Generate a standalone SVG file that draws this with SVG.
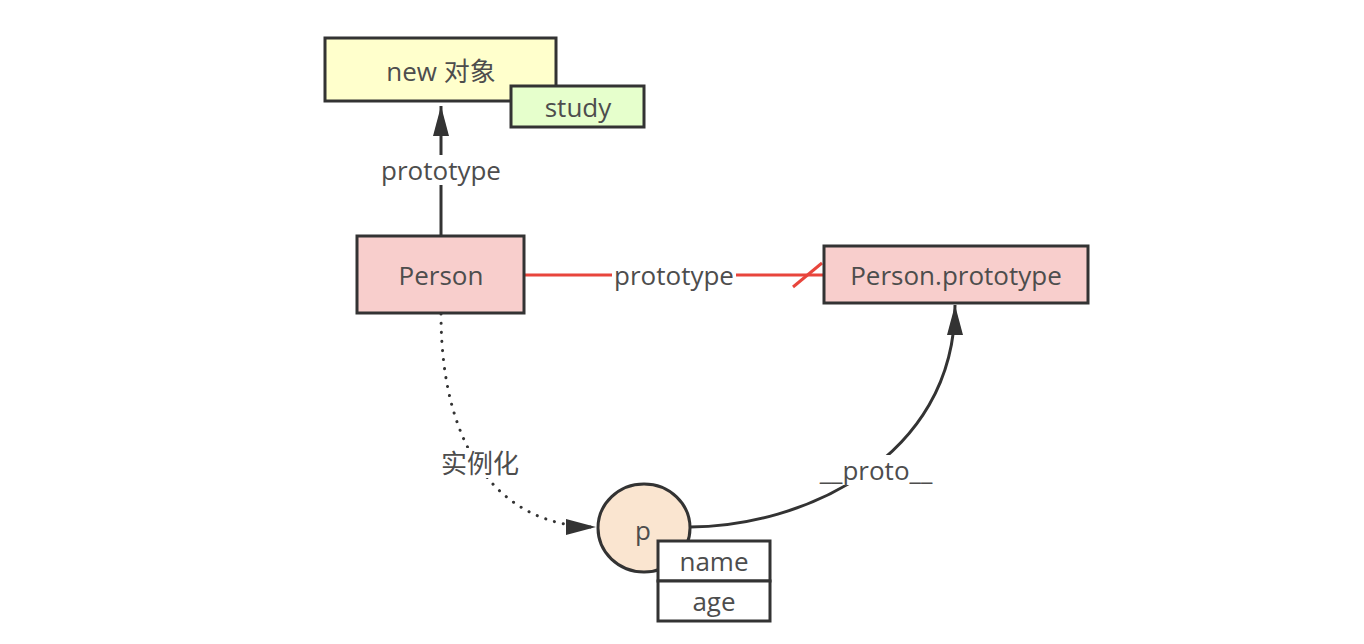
<svg xmlns="http://www.w3.org/2000/svg" width="1364" height="644" viewBox="0 0 1364 644">
<style>
.box{stroke:#333;stroke-width:3}
.t{font-family:"Open Sans","Noto Sans CJK SC",sans-serif;font-size:26px;fill:#4d4d4d;text-anchor:middle;dominant-baseline:central}
.ln{fill:none;stroke:#333;stroke-width:3}
.lbl{fill:#fff}
</style>
<defs>
<marker id="arr" markerUnits="userSpaceOnUse" markerWidth="32" markerHeight="20" refX="30" refY="10" orient="auto">
<path d="M0,2 L30,10 L0,18 Z" fill="#333"/>
</marker>
</defs>
<rect width="1364" height="644" fill="#fff"/>
<g id="connectors">
<path class="ln" d="M441,237 L441,106" marker-end="url(#arr)"/>
<rect class="lbl" x="378" y="155" width="126" height="30"/>
<text class="t" x="441" y="170">prototype</text>
<path d="M525,275 L823,275" stroke="#e8453c" stroke-width="3" fill="none"/>
<path d="M793,287 L822,263" stroke="#e8453c" stroke-width="3" fill="none"/>
<rect class="lbl" x="612" y="260" width="124" height="30"/>
<text class="t" x="674" y="275">prototype</text>
<path class="ln" d="M441,314 C441,450 500,527 596,527" stroke-width="4" stroke-dasharray="0.1,9" stroke-linecap="round" marker-end="url(#arr)"/>
<rect class="lbl" x="436" y="448" width="88" height="30"/>
<text class="t" x="480" y="463">实例化</text>
<path class="ln" d="M690,527 C800,527 955,460 955,305" marker-end="url(#arr)"/>
<rect class="lbl" x="814" y="455" width="124" height="30"/>
<text class="t" x="876" y="470">__proto__</text>
</g>
<g id="new-obj">
<rect class="box" x="325" y="38" width="231" height="63" fill="#ffffcc"/>
<text class="t" x="441" y="71">new 对象</text>
</g>
<g id="study">
<rect class="box" x="511" y="86" width="133" height="41" fill="#e6ffcc"/>
<text class="t" x="578" y="107">study</text>
</g>
<g id="person">
<rect class="box" x="357" y="236" width="167" height="77" fill="#f8cecc"/>
<text class="t" x="441" y="275">Person</text>
</g>
<g id="person-prototype">
<rect class="box" x="824" y="246" width="264" height="57" fill="#f8cecc"/>
<text class="t" x="956" y="275">Person.prototype</text>
</g>
<g id="p">
<ellipse class="box" cx="644" cy="528" rx="46" ry="44" fill="#fae5d0"/>
<text class="t" x="643" y="530">p</text>
</g>
<g id="name">
<rect class="box" x="658" y="541" width="112" height="40" fill="#fff"/>
<text class="t" x="714" y="561">name</text>
</g>
<g id="age">
<rect class="box" x="658" y="581" width="112" height="40" fill="#fff"/>
<text class="t" x="714" y="601">age</text>
</g>
</svg>
